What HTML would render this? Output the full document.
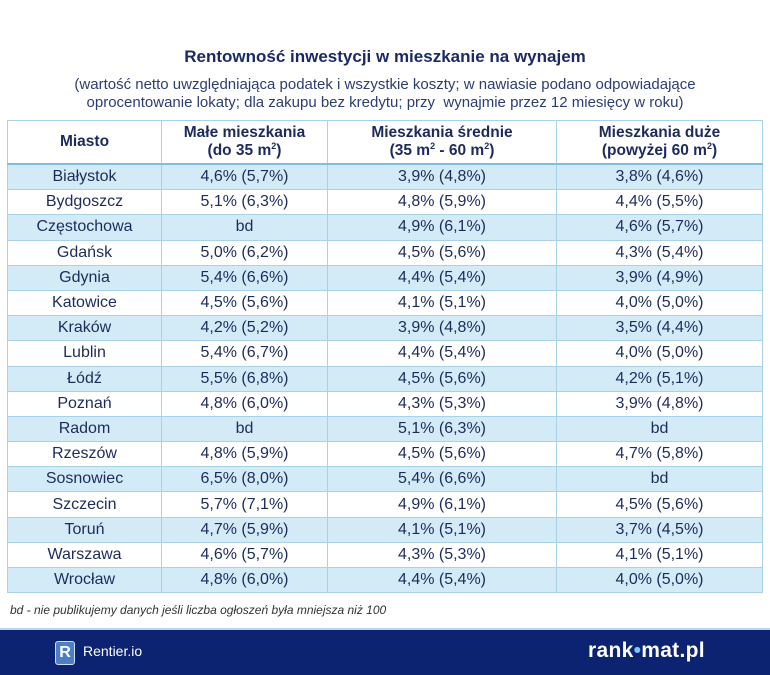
<!DOCTYPE html>
<html><head><meta charset="utf-8"><style>
body{margin:0;width:770px;height:673px;background:#fff;position:relative;overflow:hidden;font-family:"Liberation Sans",sans-serif;color:#1d2b5c}
.t{position:absolute;left:0;width:770px;text-align:center}
table{position:absolute;left:7px;top:120px;width:755px;border-collapse:collapse;table-layout:fixed}
td,th{border:1px solid #a8d2ea;text-align:center;font-size:16px;padding:0;height:24.2px;color:#1d2b5c}
th{height:42px;font-weight:bold;font-size:15.5px;line-height:18px;border-bottom:2px solid #7fbde2}
tr:nth-child(even) td{background:#d3ebf7}
sup{font-size:9px;vertical-align:6px;line-height:0}
</style></head><body>
<div class="t" style="top:47px;font-weight:bold;font-size:17px;color:#1b2a66">Rentowność inwestycji w mieszkanie na wynajem</div>
<div class="t" style="top:76px;font-size:15px;line-height:18px;color:#2c3d72">(wartość netto uwzględniająca podatek i wszystkie koszty; w nawiasie podano odpowiadające<br>oprocentowanie lokaty; dla zakupu bez kredytu; przy&nbsp; wynajmie przez 12 miesięcy w roku)</div>
<table>
<colgroup><col style="width:154px"><col style="width:166px"><col style="width:229px"><col style="width:206px"></colgroup>
<tbody id="tb">
<tr><th>Miasto</th><th>Małe mieszkania<br>(do 35 m<sup>2</sup>)</th><th>Mieszkania średnie<br>(35 m<sup>2</sup> - 60 m<sup>2</sup>)</th><th>Mieszkania duże<br>(powyżej 60 m<sup>2</sup>)</th></tr>
</tbody></table>
<div style="position:absolute;left:10px;top:603px;font-size:12px;font-style:italic;color:#333">bd - nie publikujemy danych jeśli liczba ogłoszeń była mniejsza niż 100</div>
<div style="position:absolute;left:0;top:628px;width:770px;height:45px;background:#0c2371;border-top:2px solid #b9d6ee">
<div style="position:absolute;left:55px;top:11px;width:18px;height:22px;background:#4d7fc6;border:1px solid #cfe0f5;border-radius:3px;color:#fff;font-weight:bold;font-size:16px;text-align:center;line-height:22px">R</div>
<div style="position:absolute;left:83px;top:13px;color:#fff;font-size:14px">Rentier.io</div>
<div style="position:absolute;left:588px;top:9px;color:#fff;font-size:21px;font-weight:bold;letter-spacing:0.3px">rank<span style="color:#7fc4ff">•</span>mat.pl</div>
</div>
<script>
const cities=["Białystok","Bydgoszcz","Częstochowa","Gdańsk","Gdynia","Katowice","Kraków","Lublin","Łódź","Poznań","Radom","Rzeszów","Sosnowiec","Szczecin","Toruń","Warszawa","Wrocław"];
const small=["4,6% (5,7%)","5,1% (6,3%)","bd","5,0% (6,2%)","5,4% (6,6%)","4,5% (5,6%)","4,2% (5,2%)","5,4% (6,7%)","5,5% (6,8%)","4,8% (6,0%)","bd","4,8% (5,9%)","6,5% (8,0%)","5,7% (7,1%)","4,7% (5,9%)","4,6% (5,7%)","4,8% (6,0%)"];
const medium=["3,9% (4,8%)","4,8% (5,9%)","4,9% (6,1%)","4,5% (5,6%)","4,4% (5,4%)","4,1% (5,1%)","3,9% (4,8%)","4,4% (5,4%)","4,5% (5,6%)","4,3% (5,3%)","5,1% (6,3%)","4,5% (5,6%)","5,4% (6,6%)","4,9% (6,1%)","4,1% (5,1%)","4,3% (5,3%)","4,4% (5,4%)"];
const large=["3,8% (4,6%)","4,4% (5,5%)","4,6% (5,7%)","4,3% (5,4%)","3,9% (4,9%)","4,0% (5,0%)","3,5% (4,4%)","4,0% (5,0%)","4,2% (5,1%)","3,9% (4,8%)","bd","4,7% (5,8%)","bd","4,5% (5,6%)","3,7% (4,5%)","4,1% (5,1%)","4,0% (5,0%)"];
const tb=document.getElementById('tb');
cities.forEach((c,i)=>{
  const tr=document.createElement('tr');
  
  
  [c,small[i],medium[i],large[i]].forEach((v,j)=>{
    const td=document.createElement('td');
    
    
    td.textContent=v;tr.appendChild(td);
  });
  tb.appendChild(tr);
});
</script>
</body></html>
